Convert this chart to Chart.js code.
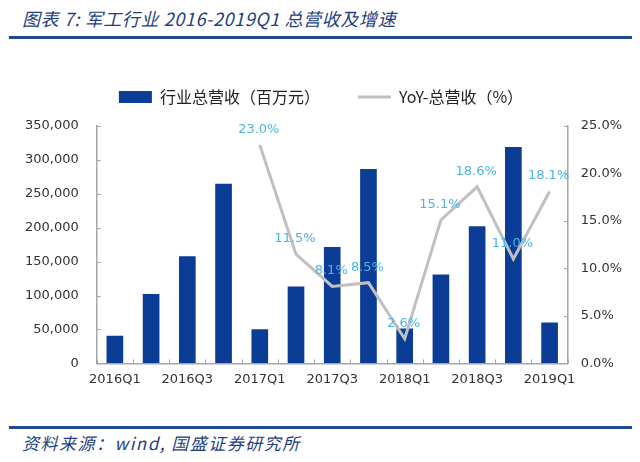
<!DOCTYPE html>
<html>
<head>
<meta charset="utf-8">
<title>军工行业总营收及增速</title>
<script src="https://cdn.jsdelivr.net/npm/chart.js"></script>
<style>
	body { margin:0; width:640px; height:462px; background:#fff; position:relative; overflow:hidden; }
	.title { position:absolute; left:22px; top:5px; font:italic 18px "Noto Sans CJK SC", sans-serif; color:#1F3F84; letter-spacing:0.6px; }
	.rule { position:absolute; left:9px; width:623px; height:3px; background:#1F4A93; }
	.source { position:absolute; left:22px; top:430px; font:italic 17px "Noto Sans CJK SC", sans-serif; color:#1F3F84; letter-spacing:1.5px; }
	#box { position:absolute; left:0; top:51px; width:640px; height:344px; }
</style>
</head>
<body>
<div class="title">图表 7: 军工行业 2016-2019Q1 总营收及增速</div>
<div class="rule" style="top:36px"></div>
<div id="box"><canvas id="chart"></canvas></div>
<div class="rule" style="top:426px"></div>
<div class="source">资料来源：wind, 国盛证券研究所</div>

<script>
// quarters and values
const quarters = ["2016Q1","2016Q2","2016Q3","2016Q4","2017Q1","2017Q2","2017Q3","2017Q4",
	"2018Q1","2018Q2","2018Q3","2018Q4","2019Q1"];
const revenue = [40700, 102500, 158000, 265000, 50500, 113400, 171700, 286600,
	51500, 131000, 202200, 319000, 60400];
const yoy = [null, null, null, null, 23.0, 11.5, 8.1, 8.5, 2.6, 15.1, 18.6, 11.0, 18.1];

const tickFont = { family: "DejaVu Sans", size: 13 };
const axisGrey = "#A6A6A6";

// percentage labels above the line points
const yoyLabels = {
	id: "yoyLabels",
	afterDatasetsDraw(chart) {
		let meta = chart.getDatasetMeta(1);
		let ctx = chart.ctx;
		ctx.save();
		ctx.font = "13px DejaVu Sans";
		ctx.fillStyle = "#4DB3E6";
		ctx.textAlign = "center";
		ctx.textBaseline = "bottom";
		meta.data.forEach((pt, i) => {
			if (yoy[i] == null) return;
			ctx.fillText(yoy[i].toFixed(1) + "%", pt.x - 1, pt.y - 9);
		});
		ctx.restore();
	}
};

// small tick marks pointing into the plot, like the original
const innerTicks = {
	id: "innerTicks",
	afterDraw(chart) {
		let ctx = chart.ctx;
		let a = chart.chartArea;
		let x = chart.scales.x;
		ctx.save();
		ctx.strokeStyle = axisGrey;
		ctx.lineWidth = 1;
		ctx.beginPath();
		let half = (x.getPixelForValue(1) - x.getPixelForValue(0)) / 2;
		for (let i = 0; i <= quarters.length; i++) {
			let px = Math.round(x.getPixelForValue(i) - half) + 0.5;
			ctx.moveTo(px, a.bottom);
			ctx.lineTo(px, a.bottom - 4);
		}
		chart.scales.y.ticks.forEach((t, i) => {
			let py = Math.round(chart.scales.y.getPixelForTick(i)) + 0.5;
			ctx.moveTo(a.left, py);
			ctx.lineTo(a.left + 4, py);
		});
		chart.scales.y1.ticks.forEach((t, i) => {
			let py = Math.round(chart.scales.y1.getPixelForTick(i)) + 0.5;
			ctx.moveTo(a.right, py);
			ctx.lineTo(a.right - 4, py);
		});
		ctx.stroke();
		ctx.restore();
	}
};

// extra space between legend and plot
const legendGap = {
	id: "legendGap",
	beforeInit(chart) {
		const fit = chart.legend.fit;
		chart.legend.fit = function() {
			fit.bind(chart.legend)();
			this.height += 11;
		};
	}
};

new Chart(document.getElementById("chart"), {
	type: "bar",
	data: {
		labels: quarters,
		datasets: [
			{
				label: "行业总营收（百万元）",
				data: revenue,
				backgroundColor: "#0B3D96",
				barPercentage: 0.46,
				categoryPercentage: 1,
				pointStyle: "rect",
				yAxisID: "y",
				order: 2
			},
			{
				label: "YoY-总营收（%）",
				type: "line",
				data: yoy,
				borderColor: "#C0C0C0",
				backgroundColor: "#C0C0C0",
				borderWidth: 3,
				pointRadius: 0,
				pointStyle: "line",
				tension: 0,
				yAxisID: "y1",
				order: 1
			}
		]
	},
	options: {
		responsive: true,
		maintainAspectRatio: false,
		animation: false,
		layout: { padding: { left: 7, right: 5, top: 0, bottom: 0 } },
		plugins: {
			tooltip: { enabled: false },
			legend: {
				position: "top",
				labels: {
					usePointStyle: true,
					pointStyleWidth: 33,
					boxHeight: 12,
					padding: 38,
					color: "#222",
					font: { family: "Noto Sans CJK SC", size: 16 },
					sort: (a, b) => a.datasetIndex - b.datasetIndex
				}
			}
		},
		scales: {
			x: {
				grid: { drawOnChartArea: false, drawTicks: false },
				border: { color: axisGrey, width: 1.5 },
				ticks: {
					autoSkip: false,
					maxRotation: 0,
					padding: 8,
					color: "#333",
					font: tickFont,
					callback: function(v, i) { return i % 2 == 0 ? this.getLabelForValue(v) : ""; }
				}
			},
			y: {
				position: "left",
				min: 0, max: 350000,
				grid: { drawOnChartArea: false, drawTicks: false },
				border: { color: axisGrey, width: 1.5 },
				ticks: {
					stepSize: 50000,
					color: "#333",
					font: tickFont,
					padding: 18,
					callback: v => v.toLocaleString("en-US")
				}
			},
			y1: {
				position: "right",
				min: 0, max: 25,
				grid: { drawOnChartArea: false, drawTicks: false },
				border: { color: axisGrey, width: 1.5 },
				ticks: {
					stepSize: 5,
					color: "#333",
					font: tickFont,
					padding: 13,
					callback: v => v.toFixed(1) + "%"
				}
			}
		}
	},
	plugins: [yoyLabels, innerTicks, legendGap]
});
</script>
</body>
</html>
